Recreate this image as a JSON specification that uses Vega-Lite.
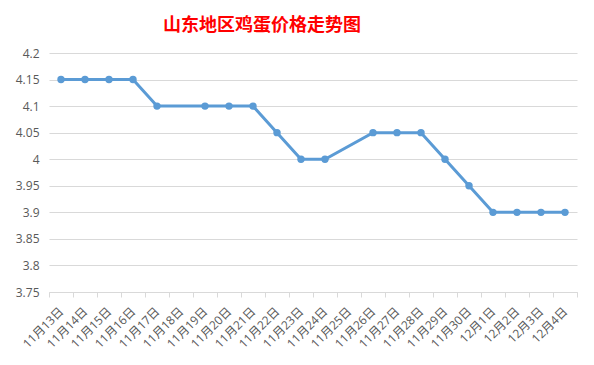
{
  "$schema": "https://vega.github.io/schema/vega-lite/v6.json",
  "width": 528,
  "height": 239,
  "autosize": {"type": "none"},
  "padding": {"left": 49, "top": 53, "right": 17, "bottom": 73},
  "background": "white",
  "title": {
    "text": "山东地区鸡蛋价格走势图",
    "color": "#ff0000",
    "font": "Noto Sans CJK SC",
    "fontSize": 18,
    "fontWeight": "bold",
    "anchor": "middle",
    "dx": -51,
    "offset": 12
  },
  "data": {
    "values": [
      {"date": "11月13日", "price": 4.15},
      {"date": "11月14日", "price": 4.15},
      {"date": "11月15日", "price": 4.15},
      {"date": "11月16日", "price": 4.15},
      {"date": "11月17日", "price": 4.1},
      {"date": "11月18日", "price": null},
      {"date": "11月19日", "price": 4.1},
      {"date": "11月20日", "price": 4.1},
      {"date": "11月21日", "price": 4.1},
      {"date": "11月22日", "price": 4.05},
      {"date": "11月23日", "price": 4.0},
      {"date": "11月24日", "price": 4.0},
      {"date": "11月25日", "price": null},
      {"date": "11月26日", "price": 4.05},
      {"date": "11月27日", "price": 4.05},
      {"date": "11月28日", "price": 4.05},
      {"date": "11月29日", "price": 4.0},
      {"date": "11月30日", "price": 3.95},
      {"date": "12月1日", "price": 3.9},
      {"date": "12月2日", "price": 3.9},
      {"date": "12月3日", "price": 3.9},
      {"date": "12月4日", "price": 3.9}
    ]
  },
  "encoding": {
    "x": {
      "field": "date",
      "type": "ordinal",
      "title": null,
      "scale": {
        "type": "band",
        "paddingInner": 0,
        "paddingOuter": 0,
        "domain": ["11月13日","11月14日","11月15日","11月16日","11月17日","11月18日","11月19日","11月20日","11月21日","11月22日","11月23日","11月24日","11月25日","11月26日","11月27日","11月28日","11月29日","11月30日","12月1日","12月2日","12月3日","12月4日"]
      },
      "axis": {
        "labelAngle": -45,
        "labelAlign": "right",
        "labelBaseline": "middle",
        "labelFont": "Open Sans, Noto Sans CJK SC",
        "labelFontSize": 12,
        "labelColor": "#595959",
        "labelPadding": 12,
        "labelOverlap": false,
        "tickBand": "extent",
        "tickSize": 5,
        "tickColor": "#d9d9d9",
        "domainColor": "#d9d9d9",
        "grid": false
      }
    },
    "y": {
      "field": "price",
      "type": "quantitative",
      "title": null,
      "scale": {"domain": [3.75, 4.2], "nice": false, "zero": false},
      "axis": {
        "values": [3.75, 3.8, 3.85, 3.9, 3.95, 4.0, 4.05, 4.1, 4.15, 4.2],
        "format": "~g",
        "labelFont": "Open Sans",
        "labelFontSize": 12,
        "labelColor": "#595959",
        "labelPadding": 10,
        "ticks": false,
        "domain": false,
        "grid": true,
        "gridColor": "#d9d9d9",
        "gridWidth": 1
      }
    }
  },
  "layer": [
    {
      "transform": [{"filter": "isValid(datum.price)"}],
      "mark": {"type": "line", "color": "#5b9bd5", "strokeWidth": 3}
    },
    {
      "transform": [{"filter": "isValid(datum.price)"}],
      "mark": {"type": "point", "filled": true, "color": "#5b9bd5", "size": 55, "opacity": 1}
    }
  ],
  "config": {"view": {"stroke": null}}
}
